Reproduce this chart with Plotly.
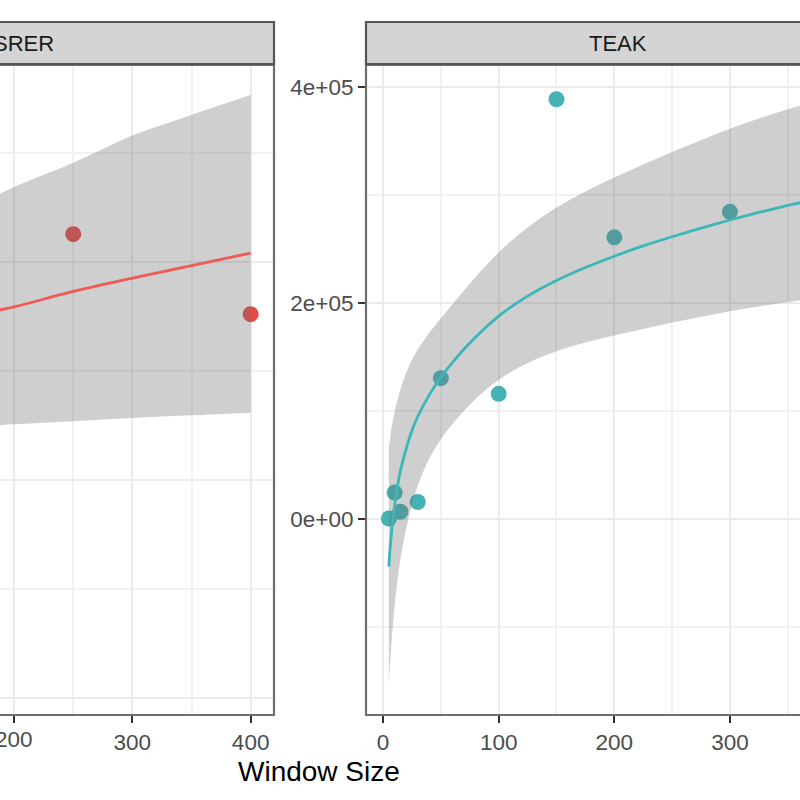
import plotly.graph_objects as go

W, H = 800, 800


def fx(p):
    return p / W


def fy(p):
    return (H - p) / H


# ---------------- data ----------------
panels = ["SRER", "TEAK"]

srer_x = [250, 400]
srer_y = [112800, 76100]
srer_fit_x = [180, 200, 250, 300, 350, 400]
srer_fit = [77100, 79400, 86500, 92600, 98400, 104100]
srer_lo = [25000, 25600, 27000, 28500, 29700, 30900]
srer_hi = [129000, 134400, 145500, 158000, 167500, 176600]

teak_x = [5, 10, 15, 30, 50, 100, 150, 200, 300]
teak_y = [500, 24500, 6800, 15800, 130500, 116000, 388900, 261000, 284600]
teak_fit_x = [5, 6, 7, 8, 10, 12, 15, 20, 25, 30, 40, 50, 60, 75, 100, 125, 150, 175,
              200, 225, 250, 275, 300, 325, 350, 375, 400]
teak_fit = [-44000, -28500, -16000, -5500, 12000, 27000, 44500, 65000, 82000, 95000,
            115000, 131500, 145000, 163000, 188000, 206500, 221000, 233000,
            243500, 253000, 261500, 269500, 277000, 284000, 290500, 296500, 302000]
teak_lo = [-154000, -135000, -119000, -105000, -81000, -61000, -37000, -9000, 13000, 31000,
           56000, 74000, 88000, 106000, 129000, 144500, 155500, 163500,
           170000, 176000, 182000, 187500, 192500, 197000, 201000, 204800, 208400]
teak_hi = [66000, 74500, 82000, 88500, 99500, 108500, 120000, 135500, 147500, 157000,
           172500, 186000, 199000, 218000, 247000, 270000, 288500, 303500,
           316500, 328500, 340000, 351000, 361500, 371000, 379500, 387500, 395000]

srer_xticks = [200, 300, 400]
srer_xticktext = ["", "300", "400"]   # "200" is drawn separately (it runs off the left edge)
teak_xticks = [0, 100, 200, 300]
y_tickvals = [0, 200000, 400000]
y_ticktext = ["0e+00", "2e+05", "4e+05"]

RED_PT = "#e84a48"
RED_LN = "#f05a56"
TEAL_PT = "#45b3b6"
TEAL_LN = "#3bb6b9"
RIBBON = "rgba(110,110,110,0.33)"

fig = go.Figure()


def add_panel(xa, ya, px_, py_, fx_, fit, lo, hi, pcol, lcol):
    fig.add_trace(go.Scatter(x=px_, y=py_, mode="markers", xaxis=xa, yaxis=ya,
                             marker=dict(size=16, color=pcol, line=dict(width=0)),
                             hoverinfo="skip"))
    fig.add_trace(go.Scatter(x=fx_, y=lo, mode="lines", xaxis=xa, yaxis=ya,
                             line=dict(width=0, shape="spline", smoothing=1.0),
                             hoverinfo="skip"))
    fig.add_trace(go.Scatter(x=fx_, y=hi, mode="lines", xaxis=xa, yaxis=ya,
                             line=dict(width=0, shape="spline", smoothing=1.0),
                             fill="tonexty", fillcolor=RIBBON, hoverinfo="skip"))
    fig.add_trace(go.Scatter(x=fx_, y=fit, mode="lines", xaxis=xa, yaxis=ya,
                             line=dict(width=2.8, color=lcol, shape="spline", smoothing=1.0),
                             hoverinfo="skip"))


add_panel("x", "y", srer_x, srer_y, srer_fit_x, srer_fit, srer_lo, srer_hi, RED_PT, RED_LN)
add_panel("x2", "y2", teak_x, teak_y, teak_fit_x, teak_fit, teak_lo, teak_hi, TEAL_PT, TEAL_LN)

FONT = "Liberation Sans, Arial, Helvetica, sans-serif"
TICKFONT = dict(family=FONT, size=22.5, color="#4d4d4d")
GRID = "#ebebeb"
MINOR = "#f1f1f1"

ydom = [fy(715), fy(65)]

common_x = dict(ticks="outside", ticklen=7, tickwidth=2, tickcolor="#333333",
                tickfont=TICKFONT, showgrid=True, gridcolor=GRID, gridwidth=2,
                zeroline=False, showline=False, tickmode="array")

fig.update_layout(
    width=W, height=H,
    margin=dict(l=0, r=0, t=0, b=0),
    paper_bgcolor="white", plot_bgcolor="white",
    showlegend=False,
    font=dict(family=FONT),
    xaxis=dict(domain=[0, fx(274)], range=[188.1, 419.75], anchor="y",
               tickvals=srer_xticks, ticktext=srer_xticktext,
               minor=dict(tickmode="array", tickvals=[150, 250, 350], showgrid=True,
                          gridcolor=MINOR, gridwidth=1.6, ticks=""),
               **common_x),
    yaxis=dict(domain=ydom, range=[-107800, 190400], anchor="x",
               tickmode="array", tickvals=[-100000, 0, 100000], showticklabels=False,
               ticks="", showgrid=True, gridcolor=GRID, gridwidth=2, zeroline=False,
               minor=dict(tickmode="array", tickvals=[-50000, 50000, 150000], showgrid=True,
                          gridcolor=MINOR, gridwidth=1.6, ticks="")),
    xaxis2=dict(domain=[fx(366), 1.0], range=[-14.75, 360.6], anchor="y2",
                tickvals=teak_xticks,
                minor=dict(tickmode="array", tickvals=[50, 150, 250, 350], showgrid=True,
                           gridcolor=MINOR, gridwidth=1.6, ticks=""),
                **common_x),
    yaxis2=dict(domain=ydom, range=[-181500, 420600], anchor="x2",
                tickmode="array", tickvals=y_tickvals, ticktext=y_ticktext,
                ticks="outside", ticklen=7, tickwidth=2, tickcolor="#333333",
                tickfont=TICKFONT, showgrid=True, gridcolor=GRID, gridwidth=2,
                zeroline=False, showline=False,
                minor=dict(tickmode="array", tickvals=[-100000, 100000, 300000], showgrid=True,
                           gridcolor=MINOR, gridwidth=1.6, ticks="")),
)

BORDER = "#6e6e6e"
shapes = []
# panel borders
shapes.append(dict(type="rect", xref="paper", yref="paper", x0=-0.4, x1=fx(274),
                   y0=ydom[0], y1=ydom[1], line=dict(color=BORDER, width=2.2),
                   fillcolor="rgba(0,0,0,0)", layer="above"))
shapes.append(dict(type="rect", xref="paper", yref="paper", x0=fx(366), x1=1.4,
                   y0=ydom[0], y1=ydom[1], line=dict(color=BORDER, width=2.2),
                   fillcolor="rgba(0,0,0,0)", layer="above"))
# strips
shapes.append(dict(type="rect", xref="paper", yref="paper", x0=-0.4, x1=fx(274),
                   y0=fy(64), y1=fy(22), line=dict(color="#555555", width=2.2),
                   fillcolor="#d4d4d4", layer="above"))
shapes.append(dict(type="rect", xref="paper", yref="paper", x0=fx(366), x1=1.4,
                   y0=fy(64), y1=fy(22), line=dict(color="#555555", width=2.2),
                   fillcolor="#d4d4d4", layer="above"))
fig.update_layout(shapes=shapes)

STRIPFONT = dict(family=FONT, size=22, color="#1a1a1a")
fig.add_annotation(x=fx(23), y=fy(43.5), xref="paper", yref="paper", text=panels[0],
                   showarrow=False, xanchor="center", yanchor="middle", font=STRIPFONT)
fig.add_annotation(x=fx(617.5), y=fy(43.5), xref="paper", yref="paper", text=panels[1],
                   showarrow=False, xanchor="center", yanchor="middle", font=STRIPFONT)
# tick label "200" of the SRER panel, partly cut by the left edge as in the original
fig.add_annotation(x=srer_xticks[0], y=fy(739), xref="x", yref="paper", text=str(srer_xticks[0]),
                   showarrow=False, xanchor="center", yanchor="middle", font=TICKFONT)
fig.add_annotation(x=fx(318.5), y=fy(771), xref="paper", yref="paper", text="Window Size",
                   showarrow=False, xanchor="center", yanchor="middle",
                   font=dict(family=FONT, size=28, color="#000000"))

fig.write_html("out.html",
               config={"displayModeBar": False},
               post_script="document.body.style.margin='0';document.body.style.overflow='hidden';")
